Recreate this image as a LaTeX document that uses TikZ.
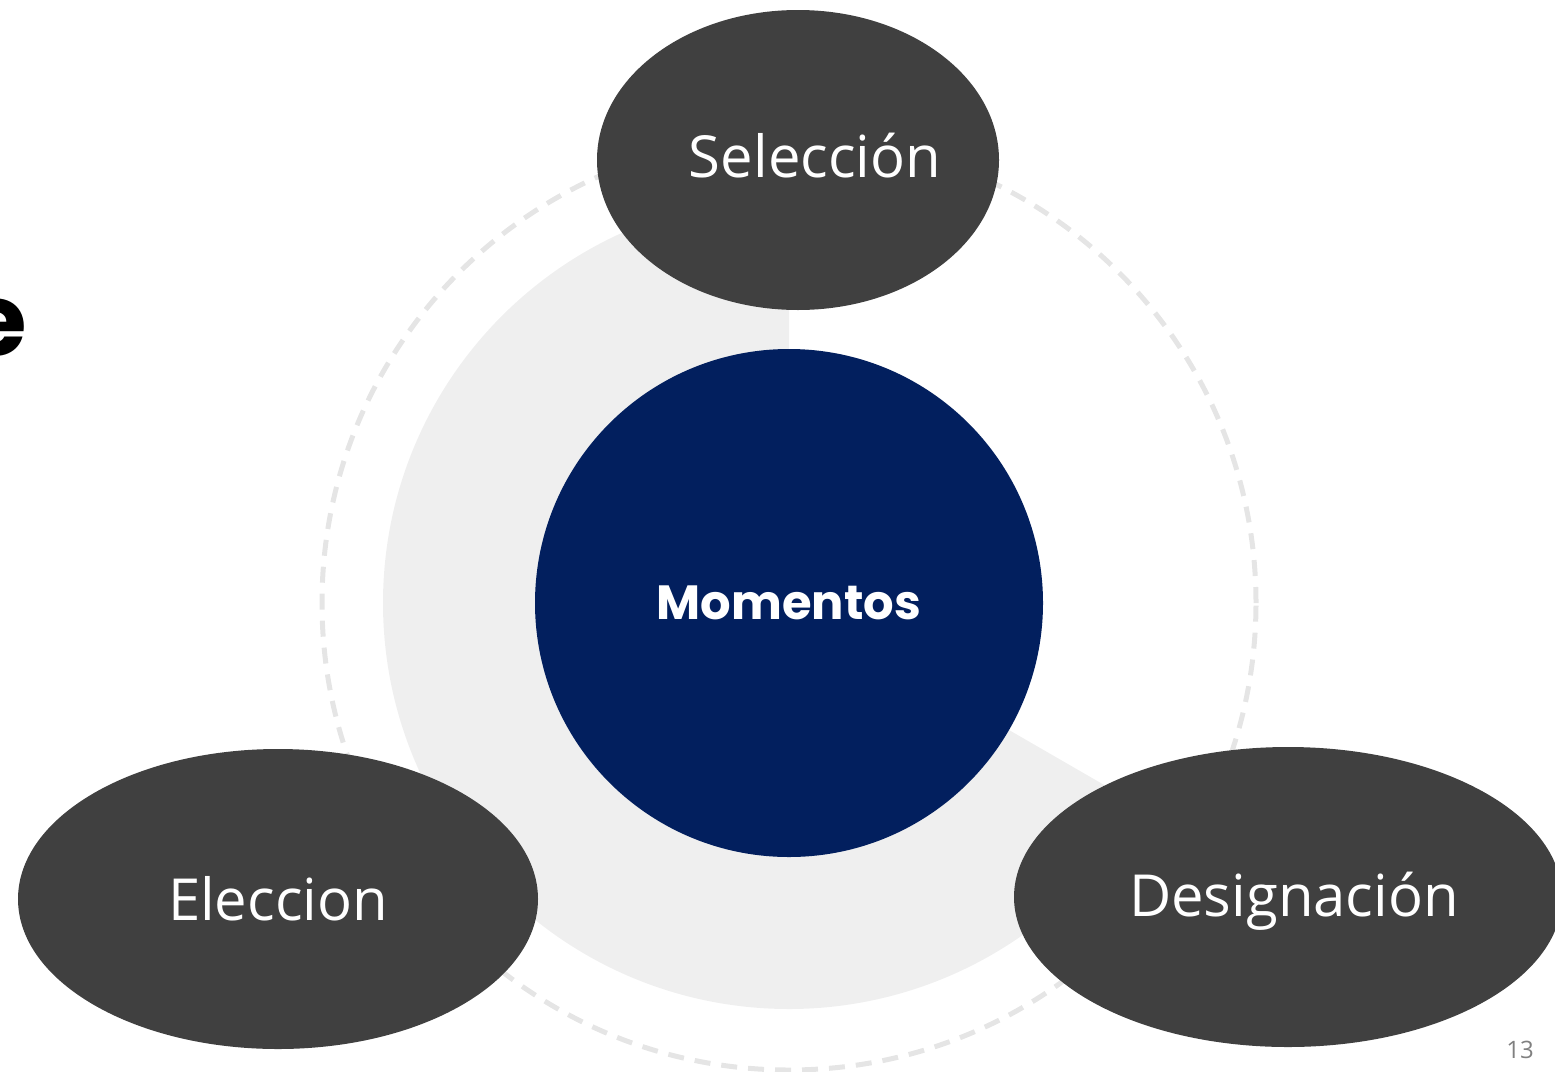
\documentclass[tikz,border=0pt]{standalone}
\usepackage{fontspec}
\setmainfont{Open Sans}
\newfontfamily\pop{Poppins}
\usetikzlibrary{shapes.geometric}
\definecolor{navy}{RGB}{2,31,94}
\definecolor{darkell}{RGB}{64,64,64}
\definecolor{ringgray}{RGB}{239,239,239}
\definecolor{dashgray}{RGB}{229,229,229}
\definecolor{numgray}{RGB}{128,128,128}
\tikzset{
  x=1pt, y=1pt,
  moment/.style={ellipse, fill=darkell, inner sep=0pt},
  momtext/.style={text=white, inner sep=0pt, font=\fontsize{58}{66}\selectfont},
  hub/.style={circle, fill=navy, inner sep=0pt, minimum size=508pt, text=white,
    font=\pop\bfseries\fontsize{48}{54}\selectfont},
  orbit/.style={draw=dashgray, line width=5pt, dash pattern=on 16pt off 11pt},
}
\begin{document}
\begin{tikzpicture}
\useasboundingbox (0,0) rectangle (1555,-1071);
\clip (0,0) rectangle (1555,-1071);
\coordinate (c) at (789,-603);
% partial title letter at the left edge
\node[anchor=east, inner sep=0pt, font=\pop\bfseries\fontsize{100}{110}\selectfont] (ttl) at (27,-328) {e};
% dashed orbit
\draw[orbit] (c) circle[radius=467];
% progress ring
\fill[ringgray] (c) -- ++(90:406) arc[start angle=90, end angle=330, radius=406] -- cycle;
% centre
\node[hub] (hub) at (c) {Momentos};
% moments
\node[moment, minimum width=402pt, minimum height=300pt] (sel) at (798,-160) {};
\node[moment, minimum width=520pt, minimum height=300pt] (ele) at (278,-899) {};
\node[moment, minimum width=548pt, minimum height=300pt] (des) at (1288,-897) {};
\node[momtext] (selt) at ([shift={(17,4)}]sel.center) {Selección};
\node[momtext] (elet) at ([shift={(0,0)}]ele.center) {Eleccion};
\node[momtext] (dest) at ([shift={(6,-4)}]des.center) {Designación};
% page number
\node[text=numgray, font=\fontsize{24}{28}\selectfont, inner sep=0pt] (pg) at (1520,-1050) {13};
\end{tikzpicture}
\end{document}
